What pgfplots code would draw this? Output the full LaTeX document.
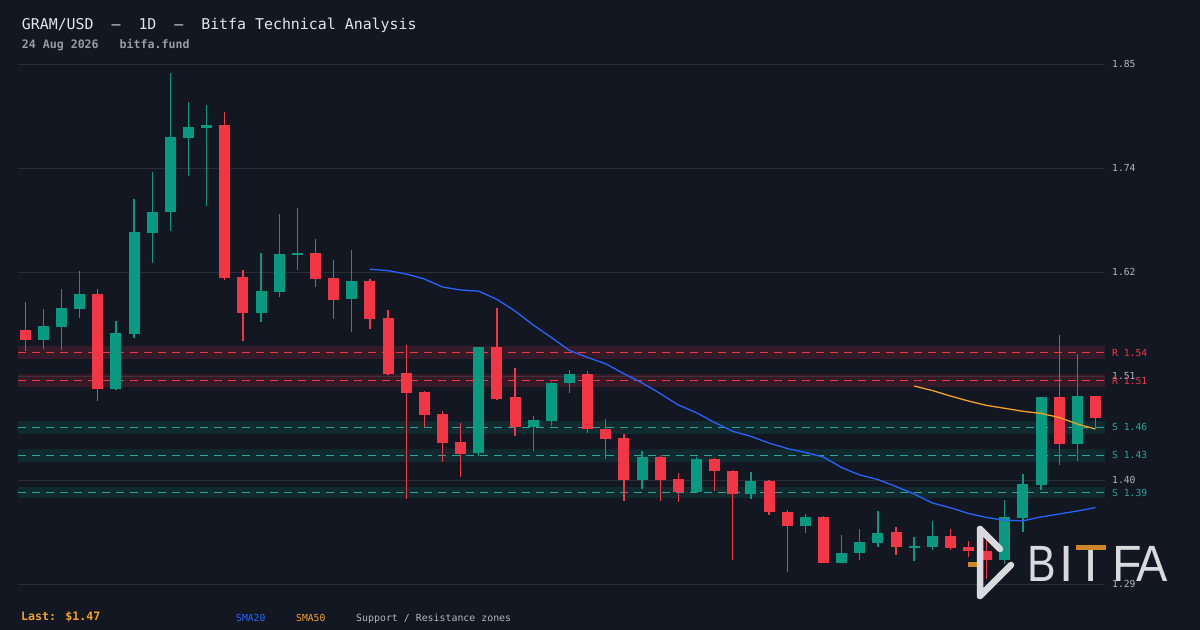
\documentclass[border=0pt]{standalone}
\usepackage{pgfplots}
\pgfplotsset{compat=1.18}
\usepackage{pgfplotstable}
\usepackage{fontspec}
\setmainfont{DejaVu Sans Mono}
\newfontfamily\logofont{Liberation Sans}
\definecolor{bgc}{RGB}{19,23,34}
\definecolor{gridc}{RGB}{42,46,57}
\definecolor{candG}{RGB}{8,153,129}
\definecolor{candR}{RGB}{242,54,69}
\definecolor{tealL}{RGB}{38,166,154}
\definecolor{smaB}{RGB}{41,98,255}
\definecolor{smaO}{RGB}{242,162,38}
\definecolor{tickc}{RGB}{178,181,190}
\definecolor{titlec}{RGB}{226,229,236}
\definecolor{subc}{RGB}{150,155,165}
\definecolor{logoc}{RGB}{218,218,222}
\definecolor{logoo}{RGB}{205,135,40}

\pgfplotstableread{
i o h l c
1 1.554 1.587 1.544 1.569
2 1.568 1.608 1.543 1.588
3 1.587 1.628 1.577 1.603
5 1.501 1.574 1.500 1.561
6 1.560 1.705 1.556 1.669
7 1.668 1.734 1.636 1.691
8 1.691 1.840 1.670 1.771
9 1.770 1.809 1.729 1.782
10 1.781 1.805 1.697 1.784
13 1.583 1.647 1.573 1.606
14 1.605 1.689 1.600 1.646
15 1.645 1.695 1.629 1.647
18 1.597 1.650 1.562 1.617
25 1.432 1.546 1.429 1.546
28 1.460 1.472 1.435 1.468
29 1.467 1.509 1.462 1.508
30 1.507 1.522 1.497 1.517
34 1.404 1.435 1.394 1.428
37 1.391 1.428 1.390 1.426
40 1.389 1.412 1.383 1.402
43 1.354 1.367 1.347 1.364
45 1.315 1.345 1.315 1.325
46 1.325 1.351 1.318 1.337
47 1.336 1.370 1.332 1.347
49 1.331 1.343 1.317 1.333
50 1.332 1.360 1.329 1.344
54 1.318 1.382 1.314 1.364
55 1.363 1.410 1.348 1.399
56 1.398 1.493 1.393 1.493
58 1.442 1.539 1.424 1.494
}\greenT

\pgfplotstableread{
i o h l c
0 1.564 1.594 1.542 1.554
4 1.603 1.608 1.488 1.501
11 1.784 1.798 1.618 1.620
12 1.621 1.629 1.552 1.583
16 1.647 1.662 1.610 1.619
17 1.620 1.639 1.576 1.597
19 1.617 1.619 1.565 1.576
20 1.577 1.586 1.516 1.517
21 1.518 1.548 1.383 1.497
22 1.498 1.499 1.460 1.473
23 1.474 1.477 1.423 1.443
24 1.444 1.465 1.407 1.432
26 1.546 1.588 1.489 1.490
27 1.492 1.524 1.451 1.460
31 1.517 1.520 1.454 1.458
32 1.458 1.469 1.426 1.448
33 1.449 1.453 1.381 1.404
35 1.428 1.430 1.381 1.404
36 1.405 1.411 1.380 1.391
38 1.426 1.427 1.392 1.413
39 1.413 1.414 1.318 1.389
41 1.402 1.404 1.366 1.369
42 1.369 1.372 1.305 1.354
44 1.364 1.365 1.315 1.315
48 1.348 1.353 1.323 1.332
51 1.344 1.351 1.329 1.331
52 1.332 1.338 1.321 1.327
53 1.328 1.340 1.298 1.318
57 1.493 1.559 1.420 1.442
59 1.494 1.494 1.459 1.470
}\redT

\pgfplotstableread{
i v
19 1.6294
20 1.6279
21 1.6243
22 1.6190
23 1.6104
24 1.6072
25 1.6059
26 1.5972
27 1.5847
28 1.5697
29 1.5563
30 1.5424
31 1.5349
32 1.5281
33 1.5175
34 1.5077
35 1.4963
36 1.4840
37 1.4757
38 1.4652
39 1.4558
40 1.4504
41 1.4432
42 1.4374
43 1.4331
44 1.4282
45 1.4170
46 1.4090
47 1.4041
48 1.3966
49 1.3886
50 1.3790
51 1.3739
52 1.3677
53 1.3634
54 1.3605
55 1.3599
56 1.3640
57 1.3672
58 1.3704
59 1.3741
}\smaA

\pgfplotstableread{
i v
49 1.5043
50 1.4995
51 1.4936
52 1.4882
53 1.4835
54 1.4804
55 1.4772
56 1.4749
57 1.4706
58 1.4636
59 1.4582
}\smaB

\begin{document}
\begin{tikzpicture}
\fill[bgc] (0,0) rectangle (1200bp,630bp);
\begin{axis}[
  at={(18bp,30bp)}, anchor=south west,
  width=1087bp, height=550bp, scale only axis,
  xmin=-0.4, xmax=59.52,
  ymin=1.27503, ymax=1.86433,
  clip mode=individual,
  axis line style={draw=none},
  tick style={draw=none},
  xtick=\empty,
  ytick={1.29185,1.40327,1.51470,1.62612,1.73755,1.84897},
  yticklabels={1.29,1.40,1.51,1.62,1.74,1.85},
  yticklabel pos=right,
  yticklabel style={anchor=west, inner sep=0pt, xshift=7bp, text=tickc,
    font=\fontsize{9.7bp}{11bp}\selectfont},
  ymajorgrids,
  grid style={draw=gridc, line width=0.9bp},
]
% zones
\addplot[draw=none, fill=candR, fill opacity=0.15] coordinates {(-0.4,1.5330) (59.52,1.5330) (59.52,1.5470) (-0.4,1.5470)} -- cycle;
\addplot[draw=none, fill=candR, fill opacity=0.15] coordinates {(-0.4,1.5030) (59.52,1.5030) (59.52,1.5170) (-0.4,1.5170)} -- cycle;
\addplot[draw=none, fill=candG, fill opacity=0.15] coordinates {(-0.4,1.4530) (59.52,1.4530) (59.52,1.4670) (-0.4,1.4670)} -- cycle;
\addplot[draw=none, fill=candG, fill opacity=0.15] coordinates {(-0.4,1.4230) (59.52,1.4230) (59.52,1.4370) (-0.4,1.4370)} -- cycle;
\addplot[draw=none, fill=candG, fill opacity=0.15] coordinates {(-0.4,1.3840) (59.52,1.3840) (59.52,1.3960) (-0.4,1.3960)} -- cycle;
% level lines
\addplot[candR, line width=1.2bp, dash pattern=on 8bp off 6bp] coordinates {(-0.4,1.54) (59.52,1.54)};
\addplot[candR, line width=1.2bp, dash pattern=on 8bp off 6bp] coordinates {(-0.4,1.51) (59.52,1.51)};
\addplot[tealL, line width=1.2bp, dash pattern=on 8bp off 6bp] coordinates {(-0.4,1.46) (59.52,1.46)};
\addplot[tealL, line width=1.2bp, dash pattern=on 8bp off 6bp] coordinates {(-0.4,1.43) (59.52,1.43)};
\addplot[tealL, line width=1.2bp, dash pattern=on 8bp off 6bp] coordinates {(-0.4,1.39) (59.52,1.39)};
% wicks
\addplot[draw=none, mark=none, error bars/.cd, y dir=both, y explicit, error mark=none,
  error bar style={draw=candG, line width=1.3bp}]
  table[x=i, y expr={(\thisrow{h}+\thisrow{l})/2}, y error expr={(\thisrow{h}-\thisrow{l})/2}] {\greenT};
\addplot[draw=none, mark=none, error bars/.cd, y dir=both, y explicit, error mark=none,
  error bar style={draw=candR, line width=1.3bp}]
  table[x=i, y expr={(\thisrow{h}+\thisrow{l})/2}, y error expr={(\thisrow{h}-\thisrow{l})/2}] {\redT};
% bodies
\addplot[draw=none, mark=none, error bars/.cd, y dir=both, y explicit, error mark=none,
  error bar style={draw=candG, line width=11bp}]
  table[x=i, y expr={(\thisrow{o}+\thisrow{c})/2}, y error expr={abs(\thisrow{o}-\thisrow{c})/2}] {\greenT};
\addplot[draw=none, mark=none, error bars/.cd, y dir=both, y explicit, error mark=none,
  error bar style={draw=candR, line width=11bp}]
  table[x=i, y expr={(\thisrow{o}+\thisrow{c})/2}, y error expr={abs(\thisrow{o}-\thisrow{c})/2}] {\redT};
% moving averages
\addplot[smaB, line width=1.3bp, mark=none] table[x=i, y=v] {\smaA};
\addplot[smaO, line width=1.3bp, mark=none] table[x=i, y=v] {\smaB};
% level labels
\node[anchor=west, inner sep=0pt, xshift=7bp, text=candR, font=\fontsize{9.7bp}{11bp}\selectfont] at (axis cs:59.52,1.54) {R 1.54};
\node[anchor=west, inner sep=0pt, xshift=7bp, text=candR, font=\fontsize{9.7bp}{11bp}\selectfont] at (axis cs:59.52,1.51) {R 1.51};
\node[anchor=west, inner sep=0pt, xshift=7bp, text=tealL, font=\fontsize{9.7bp}{11bp}\selectfont] at (axis cs:59.52,1.46) {S 1.46};
\node[anchor=west, inner sep=0pt, xshift=7bp, text=tealL, font=\fontsize{9.7bp}{11bp}\selectfont] at (axis cs:59.52,1.43) {S 1.43};
\node[anchor=west, inner sep=0pt, xshift=7bp, text=tealL, font=\fontsize{9.7bp}{11bp}\selectfont] at (axis cs:59.52,1.39) {S 1.39};
\end{axis}
% title
\node[anchor=base west, inner sep=0pt, text=titlec, font=\fontsize{14.9bp}{17bp}\selectfont] at (21.7bp,600.7bp) {GRAM/USD\ \ –\ \ 1D\ \ –\ \ Bitfa Technical Analysis};
\node[anchor=base west, inner sep=0pt, text=subc, font=\bfseries\fontsize{11.6bp}{13bp}\selectfont] at (21.7bp,581.7bp) {24 Aug 2026\ \ \ bitfa.fund};
% footer
\node[anchor=base west, inner sep=0pt, text=smaO, font=\bfseries\fontsize{11.6bp}{13bp}\selectfont] at (21bp,9.5bp) {Last: \$1.47};
\node[anchor=base west, inner sep=0pt, text=smaB, font=\fontsize{9.7bp}{11bp}\selectfont] at (236bp,9bp) {SMA20};
\node[anchor=base west, inner sep=0pt, text=smaO, font=\fontsize{9.7bp}{11bp}\selectfont] at (296bp,9bp) {SMA50};
\node[anchor=base west, inner sep=0pt, text=tickc, font=\fontsize{9.9bp}{11bp}\selectfont] at (356bp,9bp) {Support / Resistance zones};
% logo
\fill[logoo] (968bp,63bp) rectangle (977bp,68bp);
\draw[logoc, line width=6.5bp, line cap=round, line join=round] (980bp,101bp) -- (980bp,34bp) -- (1011bp,65bp);
\draw[logoc, line width=6.5bp, line cap=round] (980bp,101bp) -- (1000bp,81bp);
\begin{scope}[every node/.style={anchor=base west, inner sep=0pt, text=logoc, font=\logofont\fontsize{51bp}{52bp}\selectfont}]
\node[xscale=0.84] at (1027bp,48bp) {B};
\node at (1059bp,48bp) {I};
\node at (1075bp,48bp) {T};
\node[xscale=0.95] at (1112bp,48bp) {F};
\node[xscale=0.92] at (1136bp,48bp) {A};
\end{scope}
\fill[logoo] (1076bp,80bp) rectangle (1106bp,85bp);
\pgfresetboundingbox
\path[use as bounding box] (0,0) rectangle (1200bp,630bp);
\end{tikzpicture}
\end{document}
